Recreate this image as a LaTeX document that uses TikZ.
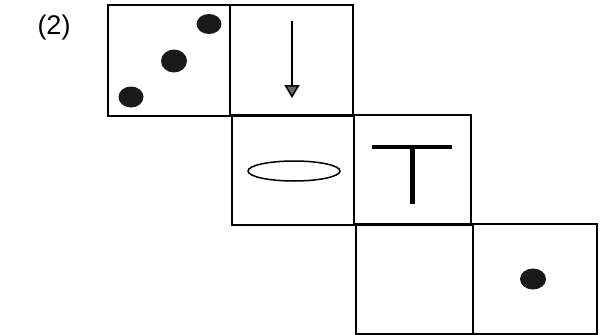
\documentclass[tikz,border=0pt]{standalone}
\usepackage{fontspec}
\setmainfont{Liberation Sans}
\usetikzlibrary{arrows.meta}
\begin{document}
\begin{tikzpicture}[x=1pt,y=-1pt,
  cell/.style={draw=black,line width=1.3pt},
  blob/.style={fill=black!90},
  lbltext/.style={font=\fontsize{27}{30}\selectfont,inner sep=0pt}]
\useasboundingbox (0,0) rectangle (606,335);
\fill[white] (0,0) rectangle (606,335);
% cells
\draw[cell] (108,5) rectangle (230,116);
\draw[cell] (230,5) rectangle (353,116);
\draw[cell] (232,115) rectangle (354,225);
\draw[cell] (354,115) rectangle (471,225);
\draw[cell] (356,224) rectangle (473,334);
\draw[cell] (473,224) rectangle (597,334);
% label
\node[lbltext] (lbl) at (54,28) {(2)};
% dots
\fill[blob] (209,24) ellipse [x radius=12.5, y radius=10];
\fill[blob] (174,61) ellipse [x radius=13, y radius=11.5];
\fill[blob] (131,97) ellipse [x radius=12.5, y radius=10.5];
\fill[blob] (533,279) ellipse [x radius=13, y radius=10.5];
% arrow
\coordinate (a1) at (292,21);
\coordinate (a2) at (292,98);
\draw[line width=2pt,-{Triangle[length=13pt,width=15pt,fill=black!60,line width=1.5pt]}] (a1) -- (a2);
% ellipse
\draw[line width=1.5pt] (294,171) ellipse [x radius=46, y radius=10];
% T shape
\coordinate (t1) at (372,147);
\coordinate (t2) at (452,147);
\coordinate (t3) at (412,147);
\coordinate (t4) at (412,204);
\draw[line width=4pt] (t1) -- (t2);
\draw[line width=5pt] (t3) -- (t4);
\end{tikzpicture}
\end{document}
